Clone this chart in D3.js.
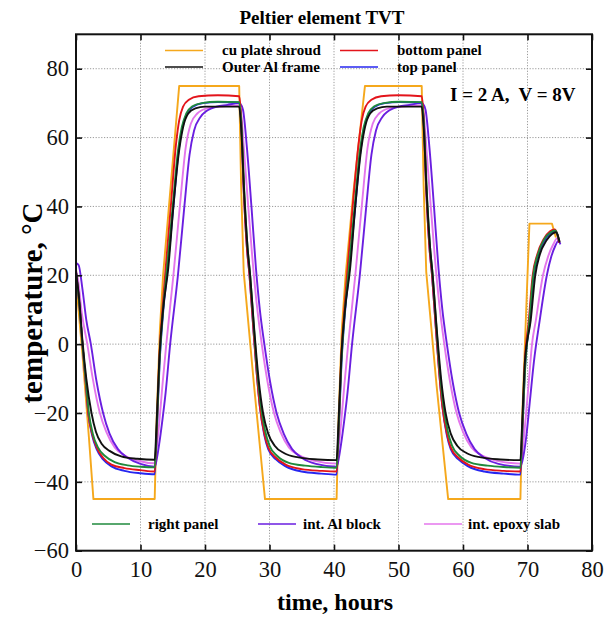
<!DOCTYPE html>
<html>
<head>
<meta charset="utf-8">
<script src="https://cdn.jsdelivr.net/npm/d3@7"></script>
<style>
    body { margin: 0; background: #fff; }
    svg { display: block; font-family: "Liberation Serif", "Times New Roman", serif; }
</style>
</head>
<body>
<div id="chart"></div>
<script>
'use strict'

// tick labels
const xTicks = [0, 10, 20, 30, 40, 50, 60, 70, 80];
const yTicks = [-60, -40, -20, 0, 20, 40, 60, 80];

// series values, [hours, temperature]
const cuPlateShroud = [
    [0, 22], [0.2, 14], [1.0, -3], [2.0, -27], [2.7, -45], [12.2, -45],
    [12.5, -22], [13.0, 4], [13.5, 20], [14.5, 42], [16.0, 75], [25.3, 75],
    [25.6, 46], [26.0, 21], [27.6, -12], [29.3, -45], [40.4, -45],
    [40.7, -22], [41.2, 4], [41.8, 20], [43.0, 44], [44.8, 75], [53.6, 75],
    [53.9, 46], [54.3, 21], [55.9, -12], [57.7, -45], [68.9, -45],
    [69.2, -20], [69.6, 0], [70.0, 20], [70.3, 35], [73.8, 35], [74.4, 31]
];
const outerAlFrame = [
    [0, 21], [0.5, 13], [1.0, 1], [1.6, -10], [2.4, -20], [3.1, -25.5], [4.0, -29], [5.2, -31], [7, -32.6], [9.5, -33.3], [12.2, -33.6],
    [12.45, -25], [12.95, -3], [13.5, 10], [14.3, 22], [15.1, 40], [15.9, 55], [16.6, 63], [17.4, 67], [18.5, 68.5], [20, 69], [25.3, 69],
    [25.6, 63], [26.1, 43], [26.6, 28], [27.0, 20], [27.6, 5], [28.3, -10], [29.0, -20], [29.8, -26], [30.8, -29.5], [32.3, -31.7], [34.5, -32.9], [37.5, -33.5], [40.4, -33.7],
    [40.65, -25], [41.15, -3], [41.7, 10], [42.5, 22], [43.3, 40], [44.1, 55], [44.8, 63], [45.6, 67], [46.7, 68.5], [48.2, 69], [53.6, 69],
    [53.9, 63], [54.4, 43], [54.9, 28], [55.3, 20], [55.9, 5], [56.6, -10], [57.3, -20], [58.1, -26], [59.1, -29.5], [60.6, -31.7], [62.8, -32.9], [65.8, -33.5], [68.9, -33.7],
    [69.15, -24], [69.6, -5], [70.5, 7], [71.2, 20], [71.9, 26], [72.9, 30], [73.8, 32], [74.4, 32.5], [74.8, 31], [75.0, 29.5]
];
const bottomPanel = [
    [0, 21], [0.5, 12], [1.0, 0], [1.5, -11], [1.9, -20], [2.5, -26], [3.2, -30], [4.2, -33], [5.5, -35], [7.5, -36], [10, -36.6], [12.2, -37],
    [12.5, -26], [12.9, -5], [13.4, 10], [13.9, 22], [14.7, 40], [15.5, 58], [16.0, 65], [16.6, 69], [17.5, 71], [19, 72], [22, 72.3], [25.3, 72],
    [25.6, 66], [26.0, 45], [26.5, 28], [26.9, 20], [27.4, 7], [28.0, -8], [28.5, -18], [29.2, -26], [29.8, -30], [31.0, -33], [32.5, -35], [35, -36.3], [38, -36.8], [40.4, -37],
    [40.7, -26], [41.1, -5], [41.6, 10], [42.1, 22], [42.9, 40], [43.8, 58], [44.3, 65], [44.9, 69], [45.8, 71], [47.3, 72], [50, 72.3], [53.6, 72],
    [53.9, 66], [54.3, 45], [54.8, 28], [55.2, 20], [55.7, 7], [56.3, -8], [56.8, -18], [57.5, -26], [58.1, -30], [59.3, -33], [60.8, -35], [63.3, -36.3], [66.3, -36.8], [68.9, -37],
    [69.2, -25], [69.6, -5], [70.2, 7], [70.8, 20], [71.5, 26], [72.5, 30.5], [73.5, 32.8], [74.2, 33.3], [74.6, 32], [74.9, 29.5]
];
const topPanel = [
    [0, 21], [0.5, 12], [1.0, 0], [1.5, -11], [1.9, -20], [2.5, -26.5], [3.2, -30.5], [4.2, -33.5], [5.5, -35.5], [7.5, -36.8], [10, -37.5], [12.2, -37.8],
    [12.5, -27], [12.95, -6], [13.5, 9], [14.2, 22], [15.1, 40], [15.9, 56], [16.5, 63], [17.2, 67], [18.2, 69], [19.7, 70], [22, 70.3], [25.3, 70.2],
    [25.6, 65], [26.0, 45], [26.5, 28], [26.9, 20], [27.4, 7], [28.0, -8], [28.5, -18], [29.2, -26.5], [29.8, -30.5], [31.0, -33.5], [32.5, -35.5], [35, -37], [38, -37.6], [40.4, -37.9],
    [40.7, -27], [41.15, -6], [41.7, 9], [42.4, 22], [43.3, 40], [44.1, 56], [44.7, 63], [45.4, 67], [46.4, 69], [47.9, 70], [50.2, 70.3], [53.6, 70.2],
    [53.9, 65], [54.3, 45], [54.8, 28], [55.2, 20], [55.7, 7], [56.3, -8], [56.8, -18], [57.5, -26.5], [58.1, -30.5], [59.3, -33.5], [60.8, -35.5], [63.3, -37], [66.3, -37.6], [68.9, -37.9],
    [69.2, -26], [69.65, -6], [70.3, 6], [70.9, 19], [71.6, 25.5], [72.6, 30], [73.6, 32.3], [74.3, 32.8], [74.7, 31.5], [74.9, 29.5]
];
const rightPanel = [
    [0, 21], [0.5, 12], [1.0, 0], [1.5, -10], [2.0, -20], [2.6, -26], [3.4, -30], [4.5, -32.5], [6, -34.3], [8, -35.2], [10, -35.6], [12.2, -35.8],
    [12.5, -25], [12.95, -5], [13.5, 10], [14.1, 22], [15.0, 40], [15.8, 56], [16.4, 63], [17.1, 67], [18, 69], [19.5, 70], [22, 70.4], [25.3, 70.3],
    [25.6, 65], [26.1, 44], [26.6, 28], [27.0, 20], [27.5, 7], [28.1, -8], [28.6, -17], [29.3, -25], [30.0, -29.5], [31.2, -32.5], [33, -34.5], [35.5, -35.3], [38, -35.7], [40.4, -35.9],
    [40.7, -25], [41.15, -5], [41.7, 10], [42.3, 22], [43.2, 40], [44.0, 56], [44.6, 63], [45.3, 67], [46.2, 69], [47.7, 70], [50.2, 70.4], [53.6, 70.3],
    [53.9, 65], [54.4, 44], [54.9, 28], [55.3, 20], [55.8, 7], [56.4, -8], [56.9, -17], [57.6, -25], [58.3, -29.5], [59.5, -32.5], [61.3, -34.5], [63.8, -35.3], [66.3, -35.7], [68.9, -35.9],
    [69.2, -24], [69.7, -5], [70.3, 7], [70.9, 20], [71.6, 26], [72.6, 30.5], [73.6, 32.5], [74.3, 33], [74.7, 31.5], [74.9, 30]
];
const intAlBlock = [
    [0, 23.5], [0.4, 23], [1.0, 16], [1.6, 7], [2.3, 0], [3.2, -11], [4.2, -20], [5.2, -26], [6.5, -30.5], [8, -33], [10, -34.8], [12.2, -35.6],
    [12.4, -34.5], [12.9, -29], [13.4, -22], [13.9, -14], [14.6, 0], [15.8, 20], [16.8, 40], [17.6, 55], [18.3, 62], [19.3, 66], [21, 68.5], [23.5, 69.5], [25.3, 70],
    [25.5, 69.8], [25.9, 68], [26.5, 57], [27.2, 40], [27.9, 22], [28.5, 10], [29.2, 0], [30.1, -11], [31.1, -20], [32.2, -26], [33.5, -30.5], [35, -33], [37.2, -34.8], [40.4, -35.6],
    [40.6, -34.5], [41.1, -29], [41.6, -22], [42.1, -14], [42.8, 0], [44.0, 20], [45.0, 40], [45.8, 55], [46.5, 62], [47.5, 66], [49.2, 68.5], [51.7, 69.5], [53.6, 70],
    [53.8, 69.8], [54.2, 68], [54.8, 57], [55.5, 40], [56.2, 22], [56.8, 10], [57.5, 0], [58.4, -11], [59.4, -20], [60.5, -26], [61.8, -30.5], [63.3, -33], [65.5, -34.8], [68.9, -35.6],
    [69.2, -34], [69.8, -27], [70.4, -16], [71.0, -5], [71.9, 7], [73.0, 20], [73.7, 25.5], [74.3, 28.5], [74.8, 30], [75.1, 29]
];
const intEpoxySlab = [
    [0, 21.5], [0.3, 19], [0.9, 9], [1.75, 0], [2.6, -10], [3.7, -20], [4.7, -25.5], [6.0, -30], [7.5, -32.3], [9.5, -33.8], [12.2, -34.6],
    [12.45, -31], [12.9, -23], [13.4, -12], [14.0, 0], [15.1, 20], [16.1, 40], [17.0, 57], [17.8, 64], [18.8, 67], [20.3, 68.5], [22.5, 69], [25.3, 69.3],
    [25.6, 67], [26.1, 55], [26.7, 40], [27.3, 26], [28.0, 12], [28.8, 0], [29.7, -11], [30.7, -20], [31.7, -25.5], [33.0, -30], [34.7, -32.4], [37, -33.9], [40.4, -34.7],
    [40.65, -31], [41.1, -23], [41.6, -12], [42.2, 0], [43.3, 20], [44.3, 40], [45.2, 57], [46.0, 64], [47.0, 67], [48.5, 68.5], [50.7, 69], [53.6, 69.3],
    [53.9, 67], [54.4, 55], [55.0, 40], [55.6, 26], [56.3, 12], [57.1, 0], [58.0, -11], [59.0, -20], [60.0, -25.5], [61.3, -30], [63.0, -32.4], [65.3, -33.9], [68.9, -34.7],
    [69.15, -32], [69.6, -24], [70.2, -11], [70.7, 0], [71.3, 7], [72.4, 20], [73.2, 25.5], [74.0, 29], [74.6, 30.8], [75.0, 29.8]
];

const seriesNames = ['cu plate shroud', 'Outer Al frame', 'bottom panel', 'top panel', 'right panel', 'int. Al block', 'int. epoxy slab'];
const seriesValues = [cuPlateShroud, outerAlFrame, bottomPanel, topPanel, rightPanel, intAlBlock, intEpoxySlab];

const colors = {
    'cu plate shroud': '#f5a81c',
    'Outer Al frame': '#111111',
    'bottom panel': '#e3141b',
    'top panel': '#2626f0',
    'right panel': '#1f8a3c',
    'int. Al block': '#6a1ee0',
    'int. epoxy slab': '#e476ec'
};

const width = 610;
const height = 617;
const margin = { top: 34.3, right: 18, bottom: 66.3, left: 76 };

const x = d3.scaleLinear().domain([0, 80]).range([margin.left, width - margin.right]);
const y = d3.scaleLinear().domain([-60, 90]).range([height - margin.bottom, margin.top]);

const svg = d3.select('#chart')
    .append('svg')
    .attr('width', width)
    .attr('height', height);

// grid
svg.append('g')
    .selectAll('line')
    .data(xTicks.slice(1, -1))
    .enter().append('line')
    .attr('x1', d => x(d)).attr('x2', d => x(d))
    .attr('y1', y(90)).attr('y2', y(-60))
    .style('stroke', '#9a9a9a')
    .style('stroke-dasharray', '1.2,1.6');

svg.append('g')
    .selectAll('line')
    .data(yTicks.slice(1))
    .enter().append('line')
    .attr('x1', x(0)).attr('x2', x(80))
    .attr('y1', d => y(d)).attr('y2', d => y(d))
    .style('stroke', '#9a9a9a')
    .style('stroke-dasharray', '1.2,1.6');

// curves, orange first and black last
const smooth = d3.line()
    .x(d => x(d[0]))
    .y(d => y(d[1]))
    .curve(d3.curveMonotoneX);

const straight = d3.line()
    .x(d => x(d[0]))
    .y(d => y(d[1]));

const drawOrder = ['cu plate shroud', 'int. epoxy slab', 'int. Al block', 'top panel', 'bottom panel', 'right panel', 'Outer Al frame'];

svg.append('g')
    .selectAll('path')
    .data(drawOrder)
    .enter().append('path')
    .attr('d', name => {
        const values = seriesValues[seriesNames.indexOf(name)];
        return name === 'cu plate shroud' ? straight(values) : smooth(values);
    })
    .style('fill', 'none')
    .style('stroke', name => colors[name])
    .style('stroke-width', 1.9)
    .style('stroke-linejoin', 'round');

// axes
const fmt = d => d < 0 ? '\u2212' + Math.abs(d) : String(d);

const axisLeftG = svg.append('g')
    .attr('transform', `translate(${x(0)},0)`)
    .call(d3.axisLeft(y).tickValues(yTicks).tickSizeInner(-6).tickSizeOuter(0).tickPadding(7).tickFormat(fmt));

const axisBottomG = svg.append('g')
    .attr('transform', `translate(0,${y(-60)})`)
    .call(d3.axisBottom(x).tickValues(xTicks).tickSizeInner(-6).tickSizeOuter(0).tickPadding(10).tickFormat(fmt));

const axisRightG = svg.append('g')
    .attr('transform', `translate(${x(80)},0)`)
    .call(d3.axisRight(y).tickValues(yTicks).tickSizeInner(-6).tickSizeOuter(0).tickFormat(''));

const axisTopG = svg.append('g')
    .attr('transform', `translate(0,${y(90)})`)
    .call(d3.axisTop(x).tickValues(xTicks).tickSizeInner(-6).tickSizeOuter(0).tickFormat(''));

[axisLeftG, axisBottomG, axisRightG, axisTopG].forEach(g => {
    g.select('.domain').remove();
    g.selectAll('line').style('stroke', '#111').style('stroke-width', 1.6);
    g.selectAll('text')
        .style('font-family', '"Liberation Serif", serif')
        .style('font-size', '22.5px')
        .style('fill', '#111');
});

// frame
svg.append('rect')
    .attr('x', x(0))
    .attr('y', y(90))
    .attr('width', x(80) - x(0))
    .attr('height', y(-60) - y(90))
    .style('fill', 'none')
    .style('stroke', '#111')
    .style('stroke-width', 2);

// title and axis labels
svg.append('text')
    .attr('x', 322)
    .attr('y', 24)
    .attr('text-anchor', 'middle')
    .style('font-size', '19px')
    .style('font-weight', 'bold')
    .text('Peltier element TVT');

svg.append('text')
    .attr('x', 335)
    .attr('y', 610)
    .attr('text-anchor', 'middle')
    .style('font-size', '24px')
    .style('font-weight', 'bold')
    .text('time, hours');

svg.append('text')
    .attr('transform', 'translate(42,303) rotate(-90)')
    .attr('text-anchor', 'middle')
    .style('font-size', '29px')
    .style('font-weight', 'bold')
    .text('temperature, \u00b0C');

svg.append('text')
    .attr('x', 450)
    .attr('y', 101)
    .style('font-size', '19px')
    .style('font-weight', 'bold')
    .style('white-space', 'pre')
    .text('I = 2 A,  V = 8V');

// legends
const legendTop = [
    { name: 'cu plate shroud', lx: 165, ly: 50.5 },
    { name: 'bottom panel', lx: 340, ly: 50.5 },
    { name: 'Outer Al frame', lx: 165, ly: 67 },
    { name: 'top panel', lx: 340, ly: 67 }
];
const legendBottom = [
    { name: 'right panel', lx: 92, ly: 524 },
    { name: 'int. Al block', lx: 258, ly: 524 },
    { name: 'int. epoxy slab', lx: 424, ly: 524 }
];

const legendItems = legendTop.map(d => Object.assign({ gap: 57 }, d))
    .concat(legendBottom.map(d => Object.assign({ gap: d.name === 'right panel' ? 56 : (d.name === 'int. Al block' ? 45 : 44) }, d)));

const legend = svg.append('g')
    .selectAll('g')
    .data(legendItems)
    .enter().append('g');

legend.append('line')
    .attr('x1', d => d.lx)
    .attr('x2', d => d.lx + 38)
    .attr('y1', d => d.ly)
    .attr('y2', d => d.ly)
    .style('stroke', d => colors[d.name])
    .style('stroke-width', 1.7);

legend.append('text')
    .attr('x', d => d.lx + d.gap)
    .attr('y', d => d.ly)
    .attr('dy', '0.33em')
    .style('font-size', '15px')
    .style('font-weight', 'bold')
    .text(d => d.name);
</script>
</body>
</html>
